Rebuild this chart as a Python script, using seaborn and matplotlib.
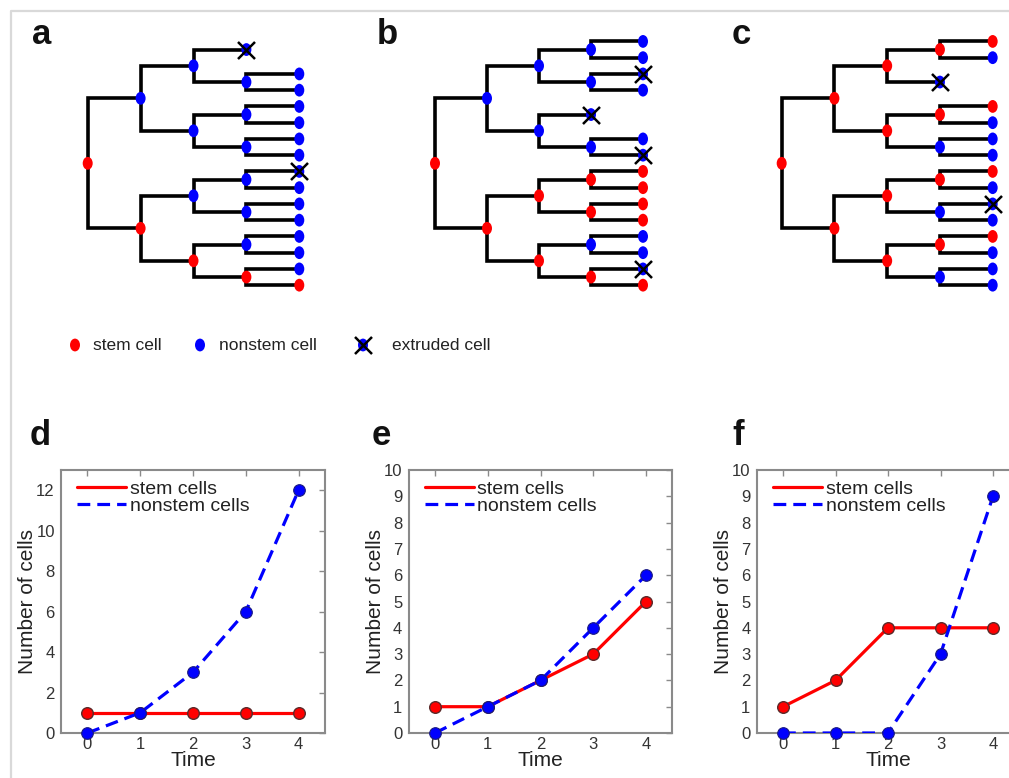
import numpy as np
import pandas as pd
import matplotlib
matplotlib.use("Agg")
import matplotlib.pyplot as plt
from matplotlib.path import Path
from matplotlib.lines import Line2D
import seaborn as sns

# ---------------- data ----------------
time = [0, 1, 2, 3, 4]
stem_d = [1, 1, 1, 1, 1]
nonstem_d = [0, 1, 3, 6, 12]
stem_e = [1, 1, 2, 3, 5]
nonstem_e = [0, 1, 2, 4, 6]
stem_f = [1, 2, 4, 4, 4]
nonstem_f = [0, 0, 0, 3, 9]

# lineage trees, one string per generation
# S = stem cell, N = nonstem cell, X = extruded cell, - = no cell
tree_a = ["S", "NS", "NNNS", "XNNNNNNS", "--NNNNNNXNNNNNNS"]
tree_b = ["S", "NS", "NNSS", "NNXNSSNS", "NNXN--NXSSSSNNXS"]
tree_c = ["S", "SS", "SSSS", "SXSNSNSN", "SN--SNNNSNXNSNNN"]

panel_letters = ["a", "b", "c", "d", "e", "f"]
legend_labels = ["stem cell", "nonstem cell", "extruded cell"]
series_labels = ["stem cells", "nonstem cells"]

RED = "#ff0000"
BLUE = "#0000ff"
TXT = "#222222"

sns.set_style("white")
plt.rcParams["font.family"] = ["Liberation Sans", "DejaVu Sans"]

W, H = 1009, 778
fig = plt.figure(figsize=(W / 100, H / 100), dpi=100)


def px_axes(left, top, width, height):
    return fig.add_axes([left / W, 1 - (top + height) / H, width / W, height / H])


# ellipse marker (taller than wide)
uc = Path.unit_circle()
ELL = Path(uc.vertices * np.array([0.78, 1.0]), uc.codes)
NODE_S = 85


def node_y(g, i):
    span = 2 ** (4 - g)
    return i * span + (span - 1) / 2


def draw_nodes(ax, df):
    cols = {"S": RED, "N": BLUE, "X": BLUE}
    sns.scatterplot(data=df, x="gen", y="slot", hue="state", palette=cols,
                    marker=ELL, s=NODE_S, linewidth=0, legend=False, ax=ax,
                    zorder=3, clip_on=False)
    xs = df[df.state == "X"]
    if len(xs):
        sns.scatterplot(data=xs, x="gen", y="slot", marker="x", color="black",
                        s=150, linewidth=1.8, legend=False, ax=ax, zorder=4,
                        clip_on=False)


def draw_tree(ax, tree):
    rows = []
    for g, states in enumerate(tree):
        for i, s in enumerate(states):
            if s == "-":
                continue
            rows.append(dict(gen=g, slot=node_y(g, i), state=s))
            if g < 4 and s != "X":
                y0 = node_y(g + 1, 2 * i)
                y1 = node_y(g + 1, 2 * i + 1)
                ax.plot([g + 1, g, g, g + 1], [y0, y0, y1, y1], color="black",
                        lw=2.6, solid_joinstyle="miter", solid_capstyle="butt",
                        zorder=1, clip_on=False)
    draw_nodes(ax, pd.DataFrame(rows))
    ax.set_xlim(-0.5, 4.5)
    ax.set_ylim(15.5, -0.5)
    ax.axis("off")


# tree panels (left px, width px)
tree_boxes = [(61.25, 264.5), (409.0, 260.0), (755.3, 263.75)]
for tree, (lft, wid) in zip([tree_a, tree_b, tree_c], tree_boxes):
    ax = px_axes(lft, 33.3, wid, 260.0)
    draw_tree(ax, tree)


# count panels
def draw_counts(ax, stem, nonstem, ymax, yticks):
    sns.lineplot(x=time, y=stem, ax=ax, color=RED, lw=2.3,
                 label=series_labels[0], zorder=2)
    sns.scatterplot(x=time, y=stem, ax=ax, color=RED, s=70, edgecolor="#5a2a2a",
                    linewidth=1.0, zorder=3, clip_on=False, legend=False)
    sns.lineplot(x=time, y=nonstem, ax=ax, color=BLUE, lw=2.3,
                 linestyle=(0, (4, 2.2)), label=series_labels[1], zorder=4)
    sns.scatterplot(x=time, y=nonstem, ax=ax, color=BLUE, s=70, edgecolor="#1a1a80",
                    linewidth=0.8, zorder=5, clip_on=False, legend=False)
    ax.set_xlim(-0.5, 4.5)
    ax.set_ylim(0, ymax)
    ax.set_xticks(time)
    ax.set_yticks(yticks)
    for sp in ax.spines.values():
        sp.set_color("#8a8a8a")
        sp.set_linewidth(1.5)
    ax.tick_params(direction="in", top=True, right=True, length=4, width=1,
                   color="#8a8a8a", labelsize=12, labelcolor="#333333")
    ax.tick_params(axis="x", pad=3)
    ax.tick_params(axis="y", pad=4.5)
    ax.set_xlabel("Time", fontsize=15, color=TXT)
    ax.set_ylabel("Number of cells", fontsize=15, color=TXT)
    ax.xaxis.set_label_coords(0.5, -0.07)
    ax.yaxis.set_label_coords(-0.091, 0.5)
    ax.legend(loc="upper left", bbox_to_anchor=(0.062, 0.962), frameon=False,
              fontsize=14, handlelength=2.5, handletextpad=0.2, labelspacing=0.0,
              borderpad=0, borderaxespad=0)
    for t in ax.get_legend().get_texts():
        t.set_color(TXT)


plot_boxes = [(61.0, 264.0), (408.6, 263.8), (756.75, 262.5)]
datasets = [(stem_d, nonstem_d, 13, range(0, 13, 2)),
            (stem_e, nonstem_e, 10, range(0, 11)),
            (stem_f, nonstem_f, 10, range(0, 11))]
for (lft, wid), (st, ns, ym, yt) in zip(plot_boxes, datasets):
    ax = px_axes(lft, 470, wid, 263)
    draw_counts(ax, st, ns, ym, list(yt))

# overlay in pixel coordinates for legend row, letters and frame
ov = fig.add_axes([0, 0, 1, 1], zorder=10)
ov.set_xlim(0, W)
ov.set_ylim(H, 0)
ov.axis("off")
ov.patch.set_alpha(0)

leg_df = pd.DataFrame({"gen": [75, 200, 363], "slot": [345, 345, 345],
                       "state": ["S", "N", "X"]})
draw_nodes(ov, leg_df)
for x, lab in zip([93, 219, 392], legend_labels):
    ov.text(x, 345, lab, fontsize=12.5, color=TXT, va="center", ha="left")

letter_pos = [(32, 44), (377, 44), (732, 44), (30, 445), (372, 445), (732, 445)]
for (x, y), let in zip(letter_pos, panel_letters):
    ov.text(x, y, let, fontsize=25, fontweight="bold", color="#111111",
            va="baseline", ha="left")

ov.plot([10.5, 10.5, W + 5], [H + 5, 10.5, 10.5], color="#d9d9d9", lw=1.6,
        clip_on=False)

fig.savefig("out.png", dpi=100)
